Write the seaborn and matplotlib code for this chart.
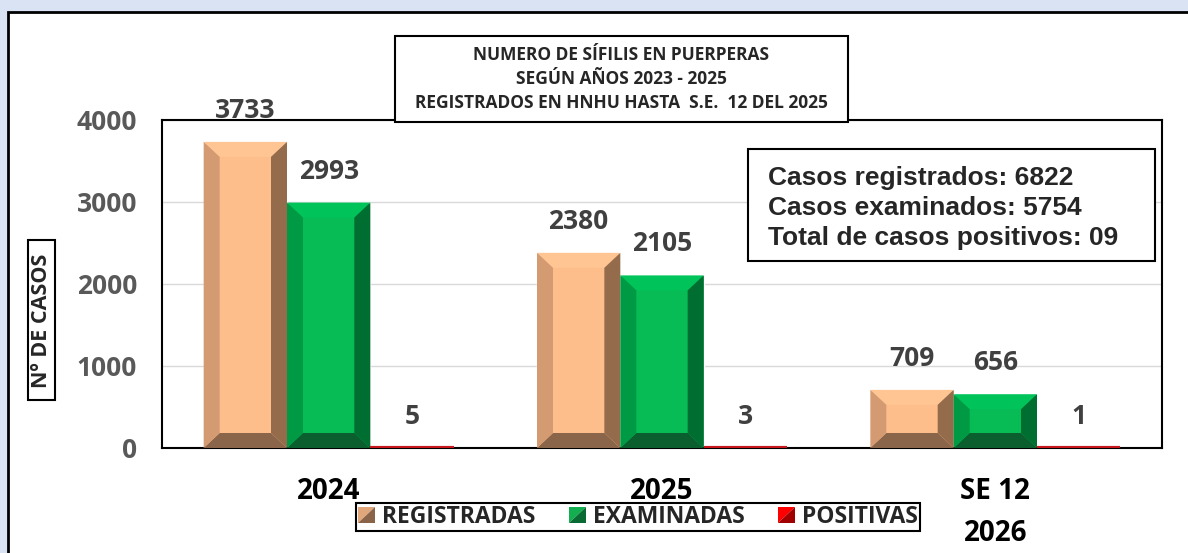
import numpy as np
import pandas as pd
import matplotlib
matplotlib.use('Agg')
import matplotlib.pyplot as plt
import seaborn as sns
from matplotlib.patches import Polygon, Rectangle, Patch
from matplotlib.legend_handler import HandlerBase

# datos
categorias = ['2024', '2025', 'SE 12\n2026']
series = ['REGISTRADAS', 'EXAMINADAS', 'POSITIVAS']
registradas = [3733, 2380, 709]
examinadas = [2993, 2105, 656]
positivas = [5, 3, 1]
yticks = [0, 1000, 2000, 3000, 4000]

titulo = 'NUMERO DE SÍFILIS EN PUERPERAS\nSEGÚN AÑOS 2023 - 2025\nREGISTRADOS EN HNHU HASTA  S.E.  12 DEL 2025'
resumen = 'Casos registrados: 6822\nCasos examinados: 5754\nTotal de casos positivos: 09'

df = pd.DataFrame({
    'categoria': categorias * 3,
    'serie': np.repeat(series, 3),
    'casos': registradas + examinadas + positivas,
})

# colores: frente, arriba, izquierda, derecha, abajo
caras = {
    'REGISTRADAS': ['#FDBE8C', '#FFC593', '#D49A71', '#946C4C', '#8A654A'],
    'EXAMINADAS': ['#07BB55', '#00C35A', '#009A44', '#006D31', '#0B5E2E'],
    'POSITIVAS': ['#C8161E', '#C8161E', '#C8161E', '#C8161E', '#C8161E'],
}
leyenda_col = {
    'REGISTRADAS': ('#E2A67B', '#8A6448'),
    'EXAMINADAS': ('#12AE50', '#0A6A34'),
    'POSITIVAS': ('#FF0000', '#A00000'),
}

sns.set_style('white')
plt.rcParams['font.family'] = ['Open Sans', 'DejaVu Sans']

W, H = 1188, 553
fig = plt.figure(figsize=(W / 100, H / 100), dpi=100, facecolor='#DAE3F3')

def fx(px):
    return px / W

def fy(py):
    return 1 - py / H

# panel blanco
fig.add_artist(Rectangle((fx(8), -0.1), 1.2, fy(12) + 0.1, facecolor='white',
                         edgecolor='black', lw=2, zorder=-10, transform=fig.transFigure))

ax = fig.add_axes([fx(162), fy(448), fx(1162) - fx(162), fy(120) - fy(448)])
sns.barplot(data=df, x='categoria', y='casos', hue='serie', palette=[caras[s][0] for s in series],
            width=0.75, saturation=1, legend=False, ax=ax, zorder=2)

ax.set_xlim(-0.5, 2.5)
ax.set_ylim(0, 4000)
ax.yaxis.grid(True, color='#D9D9D9', lw=1)
ax.set_axisbelow(True)

# biseles
ux = 3 / 1000
uy = 4000 / 328
bx, by = 16 * ux, 15 * uy
for serie, cont in zip(series, ax.containers):
    frente, arriba, izq, der, abajo = caras[serie]
    for bar in cont:
        x0 = bar.get_x()
        x1 = x0 + bar.get_width()
        h = bar.get_height()
        if serie == 'POSITIVAS':
            bar.set_edgecolor(frente)
            bar.set_linewidth(3)
            bar.set_zorder(4)
            continue
        polys = [
            ([(x0, h), (x1, h), (x1 - bx, h - by), (x0 + bx, h - by)], arriba),
            ([(x0, 0), (x1, 0), (x1 - bx, by), (x0 + bx, by)], abajo),
            ([(x0, 0), (x0 + bx, by), (x0 + bx, h - by), (x0, h)], izq),
            ([(x1, 0), (x1 - bx, by), (x1 - bx, h - by), (x1, h)], der),
        ]
        for pts, c in polys:
            ax.add_patch(Polygon(pts, closed=True, facecolor=c, edgecolor='none', zorder=3))

# etiquetas de valores
for cont in ax.containers:
    ax.bar_label(cont, padding=13, fontsize=19, fontweight='bold', color='#404040')

ax.set_yticks(yticks, [str(t) for t in yticks], fontsize=19, fontweight='bold', color='#595959')
ax.set_xticks(range(len(categorias)), categorias, fontsize=20, fontweight='bold', color='black',
              linespacing=1.6)
ax.tick_params(axis='y', length=0, pad=18)
ax.tick_params(axis='x', length=0, pad=21)
ax.set_xlabel('')
ax.set_ylabel('')
for sp in ax.spines.values():
    sp.set_visible(True)
    sp.set_color('black')
    sp.set_linewidth(1.5)

# cajas de texto
def caja(x0, y0, x1, y1):
    fig.add_artist(Rectangle((fx(x0), fy(y1)), fx(x1) - fx(x0), fy(y0) - fy(y1), facecolor='white',
                             edgecolor='black', lw=1.5, zorder=5, transform=fig.transFigure))

caja(395, 36, 848, 122)
fig.text(fx(621.5), fy(79), titulo, ha='center', va='center', fontsize=12.5, fontweight='bold',
         linespacing=1.44, zorder=6)

caja(748, 149, 1155, 261)
fig.text(fx(768), fy(208), resumen, ha='left', va='center', fontsize=19, fontweight='bold',
         family='Liberation Sans', linespacing=1.33, zorder=6)

caja(28, 240, 55, 400)
fig.text(fx(41.5), fy(321), 'Nº DE CASOS', rotation=90, ha='center', va='center', fontsize=15.5,
         fontweight='bold', zorder=6)

# leyenda
class BiselHandler(HandlerBase):
    def __init__(self, claro, oscuro):
        super().__init__()
        self.claro = claro
        self.oscuro = oscuro

    def create_artists(self, legend, orig_handle, xdescent, ydescent, width, height, fontsize, trans):
        s = height * 1.0
        x0 = -xdescent + (width - s) / 2
        y0 = -ydescent + (height - s) / 2
        t1 = Polygon([(x0, y0), (x0, y0 + s), (x0 + s, y0 + s)], facecolor=self.claro,
                     edgecolor='none', transform=trans)
        t2 = Polygon([(x0, y0), (x0 + s, y0), (x0 + s, y0 + s)], facecolor=self.oscuro,
                     edgecolor='none', transform=trans)
        return [t1, t2]

handles = [Patch(facecolor=caras[s][0]) for s in series]
hmap = {h: BiselHandler(*leyenda_col[s]) for h, s in zip(handles, series)}
leg = fig.legend(handles, series, loc='center', bbox_to_anchor=(fx(638), fy(517)), ncol=3,
                 handler_map=hmap, prop={'family': 'Open Sans', 'weight': 'bold', 'size': 16.5},
                 frameon=True, fancybox=False, edgecolor='black', framealpha=1, handlelength=0.75,
                 handleheight=0.75, handletextpad=0.3, columnspacing=1.45, borderpad=0.1)
leg.get_frame().set_linewidth(1.5)
leg.set_zorder(6)

fig.savefig('out.png', dpi=100, facecolor=fig.get_facecolor())
